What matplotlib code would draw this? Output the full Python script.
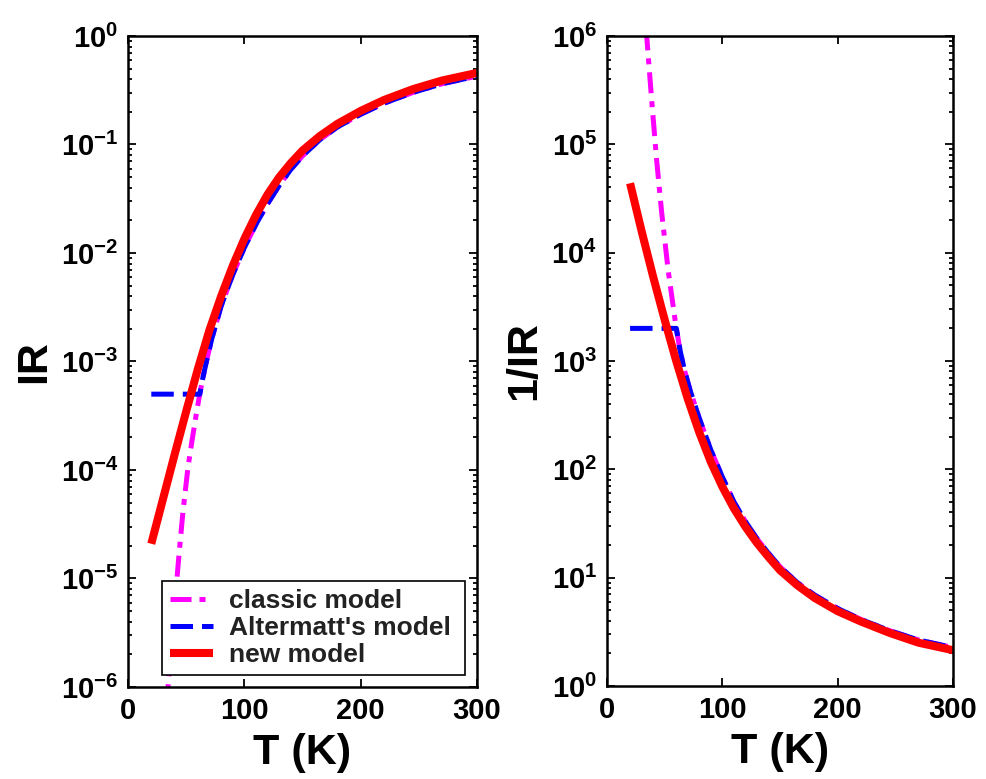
import math
import matplotlib
matplotlib.use("Agg")
import matplotlib.pyplot as plt
from matplotlib.ticker import LogLocator, FixedLocator, FuncFormatter, NullLocator

# ---- left panel: IR vs T ----
T_classic_L = [33, 34.4, 38, 41, 44, 47.3, 51.6, 55, 58, 61, 64, 68, 72, 80, 90, 100, 110, 120, 130,
               140, 150, 165, 180, 200, 220, 245, 270, 300]
IR_classic = [6.8e-7, 1.0e-6, 3.0e-6, 7.4e-6, 1.74e-5, 4.2e-5, 1.07e-4, 1.86e-4, 2.95e-4, 4.57e-4,
              6.8e-4, 1.07e-3, 1.62e-3, 3.24e-3, 6.3e-3, 1.12e-2, 1.84e-2, 2.85e-2, 4.2e-2,
              5.9e-2, 7.85e-2, 0.111, 0.145, 0.19, 0.24, 0.302, 0.363, 0.427]

T_alt_L = [20, 61.7, 64, 68, 72, 80, 90, 100, 110, 120, 130, 140, 150, 165, 180, 200, 220, 245,
           270, 300]
IR_alt = [5e-4, 5e-4, 6.8e-4, 1.07e-3, 1.62e-3, 3.24e-3, 6.3e-3, 1.12e-2, 1.84e-2, 2.85e-2, 4.2e-2,
          5.9e-2, 7.85e-2, 0.111, 0.145, 0.19, 0.24, 0.302, 0.363, 0.427]

T_new_L = [20, 30, 40, 50, 60, 70, 80, 90, 100, 110, 120, 130, 140, 150, 165, 180, 200, 220, 245,
           270, 300]
IR_new = [2.09e-5, 5.37e-5, 1.38e-4, 3.47e-4, 8.5e-4, 1.95e-3, 3.98e-3, 7.6e-3, 1.35e-2, 2.24e-2,
          3.47e-2, 5.0e-2, 6.76e-2, 8.8e-2, 0.12, 0.155, 0.204, 0.257, 0.324, 0.389, 0.457]

# ---- right panel: 1/IR vs T ----
T_classic_R = [34.0, 34.4, 38.8, 43, 47.4, 53, 59, 60.1, 63.3, 67, 72, 80, 90, 100, 110, 120, 130,
               140, 150, 165, 180, 200, 220, 245, 270, 300]
invIR_classic = [1.15e6, 1.0e6, 2.5e5, 7.2e4, 2.34e4, 6.9e3, 2.4e3, 2.0e3, 1.26e3, 832, 537, 295,
                 151, 85, 50, 33, 22.9, 16.8, 12.6, 9.0, 6.9, 5.19, 4.12, 3.24, 2.66, 2.26]

T_alt_R = [20, 60.1, 63.3, 67, 72, 80, 90, 100, 110, 120, 130, 140, 150, 165, 180, 200, 220, 245,
           270, 300]
invIR_alt = [2000, 2000, 1.26e3, 832, 537, 295, 151, 85, 50, 33, 22.9, 16.8, 12.6, 9.0, 6.9, 5.19,
             4.12, 3.24, 2.66, 2.26]

T_new_R = [20, 30, 40, 50, 60, 70, 80, 90, 100, 110, 120, 130, 140, 150, 165, 180, 200, 220, 245,
           270, 300]
invIR_new = [4.37e4, 1.58e4, 6.0e3, 2.4e3, 1.0e3, 447, 219, 117, 69, 43.6, 29.5, 20.9, 15.5, 11.7,
             8.5, 6.5, 4.9, 3.94, 3.09, 2.51, 2.14]

x_ticks = [0, 100, 200, 300]
legend_labels = ["classic model", "Altermatt's model", "new model"]

plt.rcParams["font.family"] = ["Liberation Sans", "DejaVu Sans"]
plt.rcParams["font.weight"] = "bold"
plt.rcParams["mathtext.fontset"] = "custom"
plt.rcParams["mathtext.rm"] = "Liberation Sans:bold"
plt.rcParams["mathtext.bf"] = "Liberation Sans:bold"
plt.rcParams["mathtext.default"] = "rm"

fig = plt.figure(figsize=(9.87, 7.79), dpi=100)
ax1 = fig.add_axes([0.1297, 0.1181, 0.3536, 0.8357])
ax2 = fig.add_axes([0.615, 0.1194, 0.3506, 0.8344])

dash_blue = (4.5, 1.8)
dash_mag = (4.2, 1.6, 1.2, 1.6)


def style_axes(ax, ymin, ymax, ylabel):
    ax.set_yscale("log")
    ax.set_xlim(0, 300)
    ax.set_ylim(ymin, ymax)
    ax.xaxis.set_major_locator(FixedLocator(x_ticks))
    ax.xaxis.set_minor_locator(NullLocator())
    ax.yaxis.set_major_locator(LogLocator(base=10, numticks=20))
    ax.yaxis.set_minor_locator(LogLocator(base=10, subs=range(2, 10), numticks=20))
    ax.yaxis.set_major_formatter(FuncFormatter(lambda v, p: r"$10^{%d}$" % round(math.log10(v))))
    ax.tick_params(which="both", direction="in", top=True, right=True, width=1.3)
    ax.tick_params(which="major", length=6, labelsize=21, pad=7)
    ax.tick_params(which="minor", length=3)
    for s in ax.spines.values():
        s.set_linewidth(1.8)
    ax.set_xlabel("T (K)", fontsize=31, fontweight="bold", labelpad=6)
    ax.set_ylabel(ylabel, fontsize=31, fontweight="bold", labelpad=5)


ax1.plot(T_classic_L, IR_classic, color="#ff00ff", lw=3.6, dashes=dash_mag, label=legend_labels[0])
ax1.plot(T_alt_L, IR_alt, color="#0000ff", lw=3.6, dashes=dash_blue, label=legend_labels[1])
ax1.plot(T_new_L, IR_new, color="#ff0000", lw=5.8, solid_capstyle="butt", label=legend_labels[2])
style_axes(ax1, 1e-6, 1e0, "IR")

leg = ax1.legend(loc="lower left", bbox_to_anchor=(0.0966, 0.018, 0.869, 0.154), mode="expand",
                 borderaxespad=0, fontsize=19, handlelength=1.65, handletextpad=0.6,
                 labelspacing=0.12, borderpad=0.3, fancybox=False, framealpha=1,
                 edgecolor="black")
leg.get_frame().set_linewidth(1.2)
for t in leg.get_texts():
    t.set_color("#222222")

ax2.plot(T_classic_R, invIR_classic, color="#ff00ff", lw=3.6, dashes=dash_mag)
ax2.plot(T_alt_R, invIR_alt, color="#0000ff", lw=3.6, dashes=dash_blue)
ax2.plot(T_new_R, invIR_new, color="#ff0000", lw=5.8, solid_capstyle="butt")
style_axes(ax2, 1e0, 1e6, "1/IR")

fig.savefig("out.png", dpi=100)
